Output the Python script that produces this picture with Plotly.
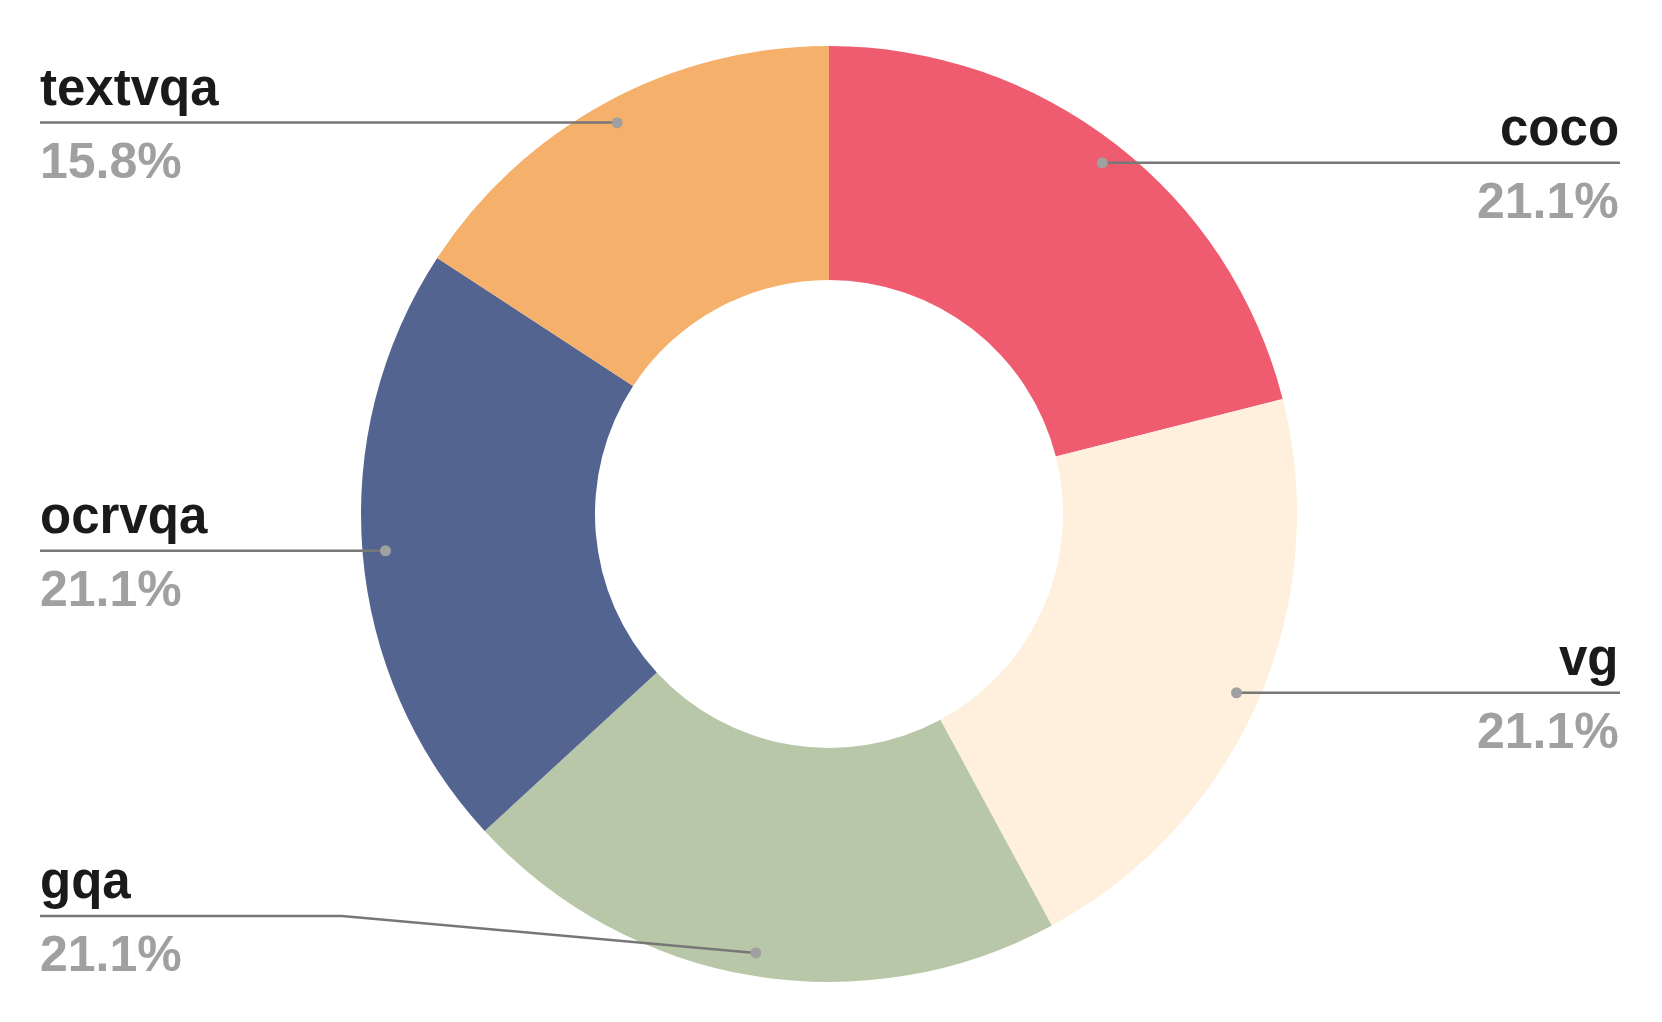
import math

import plotly.graph_objects as go

W, H = 1662, 1022

labels = ["coco", "vg", "gqa", "ocrvqa", "textvqa"]
counts = [4, 4, 4, 4, 3]
colors = ["#EF5B6F", "#FEF0DC", "#B7C7A8", "#536491", "#F5B06B"]

# geometry in pixels (the hidden axes map 1:1 onto the canvas)
CX, CY = 829, 514
R_OUT = 468
R_DOT = 445
HOLE = 0.5
LEFT_X, RIGHT_X = 40, 1620
ELBOW_LEFT, ELBOW_RIGHT = 342, 1320
LABEL_Y_MAX = 916

NAME_COLOR = "#1a1a1a"
PCT_COLOR = "#a0a0a0"
LINE_COLOR = "#777777"
FONT = "Liberation Sans, Arial, sans-serif"

fig = go.Figure()
fig.add_trace(
    go.Pie(
        labels=labels,
        values=counts,
        marker=dict(colors=colors, line=dict(width=0)),
        hole=HOLE,
        sort=False,
        direction="clockwise",
        rotation=0,
        textinfo="none",
        hoverinfo="label+percent",
        showlegend=False,
        domain=dict(
            x=[(CX - R_OUT) / W, (CX + R_OUT) / W],
            y=[1 - (CY + R_OUT) / H, 1 - (CY - R_OUT) / H],
        ),
    )
)

total = sum(counts)
cum = 0
for name, v in zip(labels, counts):
    mid = (cum + v / 2) / total * 2 * math.pi
    cum += v
    dx = CX + R_DOT * math.sin(mid)
    dy = CY - R_DOT * math.cos(mid)
    right = math.sin(mid) > 0
    ly = min(dy, LABEL_Y_MAX)
    edge = RIGHT_X if right else LEFT_X
    elbow = ELBOW_RIGHT if right else ELBOW_LEFT

    # leader line + dot, drawn above the pie
    fig.add_shape(
        type="path", xref="x", yref="y", layer="above",
        path=f"M {dx:.1f},{dy:.1f} L {elbow:.1f},{ly:.1f} L {edge:.1f},{ly:.1f}",
        line=dict(color=LINE_COLOR, width=2.5),
    )
    fig.add_shape(
        type="circle", xref="x", yref="y", layer="above",
        x0=dx - 5.5, x1=dx + 5.5, y0=dy - 5.5, y1=dy + 5.5,
        fillcolor=PCT_COLOR, line=dict(width=0),
    )

    anchor = "right" if right else "left"
    shift = 1 if right else -2
    fig.add_annotation(
        x=edge, y=ly - 5, text=f"<b>{name}</b>", showarrow=False,
        xanchor=anchor, yanchor="bottom", xshift=shift,
        font=dict(family=FONT, size=51, color=NAME_COLOR),
    )
    fig.add_annotation(
        x=edge, y=ly + 8, text=f"<b>{v / total * 100:.1f}%</b>", showarrow=False,
        xanchor=anchor, yanchor="top", xshift=shift,
        font=dict(family=FONT, size=50, color=PCT_COLOR),
    )

fig.update_layout(
    width=W,
    height=H,
    margin=dict(l=0, r=0, t=0, b=0),
    paper_bgcolor="white",
    plot_bgcolor="rgba(0,0,0,0)",
    xaxis=dict(range=[0, W], visible=False, fixedrange=True),
    yaxis=dict(range=[H, 0], visible=False, fixedrange=True),
)

fig.write_html(
    "out.html",
    config={"displayModeBar": False},
    post_script="document.body.style.margin = '0';",
)
